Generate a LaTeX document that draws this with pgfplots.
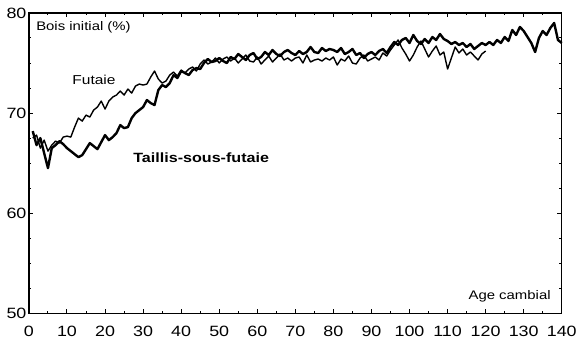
\documentclass[border=0pt]{standalone}
\usepackage{fontspec}
\setmainfont[FakeStretch=1.2]{Liberation Sans}
\usepackage{pgfplots}
\pgfplotsset{compat=1.18}

\begin{document}
\begin{tikzpicture}[x=1bp,y=1bp]
  \begin{axis}[
    scale only axis,
    width=534bp, height=301bp,
    xmin=0, xmax=140, ymin=50, ymax=80,
    xtick={0,10,...,140}, ytick={50,60,70,80},
    minor x tick num=1, minor y tick num=3,
    tick align=inside,
    major tick length=4.5bp, minor tick length=2.5bp,
    axis line style={line width=1.3bp},
    every tick/.style={black, line width=1bp},
    /pgf/number format/assume math mode=true,
    ticklabel style={font=\fontsize{15}{17}\selectfont},
    xticklabel style={yshift=-9bp},
    yticklabel style={xshift=1bp},
    clip=false]
    % Taillis-sous-futaie (trait epais)
    \addplot[black, line width=2.4bp, line join=round] coordinates {
      (1,68.2) (2,66.8) (3,67.5) (4,66.0) (5,64.5) (6,66.5) (7,66.8) (8,67.2) (9,66.9) (10,66.5)
      (11,66.2) (12,65.9) (13,65.6) (14,65.8) (15,66.4) (16,67.0) (17,66.7) (18,66.4) (19,67.1) (20,67.8)
      (21,67.3) (22,67.6) (23,68.0) (24,68.8) (25,68.5) (26,68.6) (27,69.5) (28,70.0) (29,70.3) (30,70.6)
      (31,71.3) (32,71.0) (33,70.8) (34,72.3) (35,72.8) (36,72.6) (37,73.0) (38,73.8) (39,73.5) (40,74.2)
      (41,74.0) (42,73.8) (43,74.3) (44,74.5) (45,74.4) (46,75.0) (47,75.4) (48,75.1) (49,75.2) (50,75.5)
      (51,75.2) (52,75.0) (53,75.6) (54,75.4) (55,75.9) (56,75.6) (57,75.3) (58,75.8) (59,76.0) (60,75.4)
      (61,75.6) (62,76.1) (63,75.8) (64,76.3) (65,75.9) (66,75.7) (67,76.1) (68,76.3) (69,76.0) (70,75.8)
      (71,76.2) (72,75.9) (73,76.1) (74,76.6) (75,76.1) (76,76.0) (77,76.5) (78,76.2) (79,76.4) (80,76.3)
      (81,76.1) (82,76.5) (83,75.9) (84,76.1) (85,76.4) (86,75.8) (87,76.0) (88,75.5) (89,75.9) (90,76.1)
      (91,75.8) (92,76.2) (93,76.4) (94,76.0) (95,76.6) (96,77.1) (97,76.8) (98,77.3) (99,77.5) (100,77.0)
      (101,77.8) (102,77.2) (103,76.9) (104,77.4) (105,77.0) (106,77.6) (107,77.3) (108,77.9) (109,77.4) (110,77.2)
      (111,76.9) (112,77.1) (113,76.8) (114,77.0) (115,76.6) (116,76.9) (117,76.4) (118,76.7) (119,77.0) (120,76.8)
      (121,77.1) (122,76.8) (123,77.3) (124,77.0) (125,77.6) (126,77.2) (127,78.3) (128,77.8) (129,78.6) (130,78.2)
      (131,77.6) (132,77.0) (133,76.1) (134,77.5) (135,78.2) (136,77.8) (137,78.5) (138,79.0) (139,77.3) (140,77.0)
    };
    % Futaie (trait fin)
    \addplot[black, line width=1.4bp, line join=round] coordinates {
      (1,67.5) (2,67.8) (3,66.5) (4,67.3) (5,66.2) (6,66.8) (7,67.2) (8,67.0) (9,67.6) (10,67.7)
      (11,67.6) (12,68.6) (13,69.5) (14,69.2) (15,69.8) (16,69.6) (17,70.3) (18,70.6) (19,71.2) (20,70.4)
      (21,71.2) (22,71.6) (23,71.8) (24,72.2) (25,71.8) (26,72.4) (27,72.0) (28,72.7) (29,72.9) (30,72.8)
      (31,72.9) (32,73.6) (33,74.2) (34,73.4) (35,73.0) (36,73.2) (37,73.8) (38,74.1) (39,73.7) (40,74.3)
      (41,74.0) (42,74.4) (43,74.6) (44,74.2) (45,74.9) (46,75.3) (47,74.9) (48,75.1) (49,75.5) (50,75.0)
      (51,75.4) (52,75.6) (53,75.2) (54,75.5) (55,75.0) (56,75.4) (57,75.8) (58,75.2) (59,75.1) (60,75.6)
      (61,74.9) (62,75.3) (63,75.7) (64,75.1) (65,75.5) (66,75.9) (67,75.3) (68,75.5) (69,75.2) (70,75.5)
      (71,75.6) (72,75.0) (73,75.8) (74,75.1) (75,75.3) (76,75.4) (77,75.2) (78,75.5) (79,75.3) (80,75.6)
      (81,74.8) (82,75.4) (83,75.2) (84,75.7) (85,75.0) (86,74.9) (87,75.5) (88,75.8) (89,75.2) (90,75.4)
      (91,75.6) (92,75.3) (93,76.0) (94,75.7) (95,76.3) (96,76.8) (97,77.3) (98,76.5) (99,75.9) (100,75.2)
      (101,75.8) (102,76.6) (103,77.2) (104,76.4) (105,75.6) (106,76.2) (107,76.7) (108,75.8) (109,76.1) (110,74.4)
      (111,75.5) (112,76.6) (113,76.0) (114,76.4) (115,75.8) (116,76.1) (117,75.7) (118,75.3) (119,75.9) (120,76.2)
    };
    \node[anchor=west, font=\fontsize{12.5}{14}\selectfont] at (axis cs:1,78.6) {Bois initial (\%)};
    \node[anchor=west, font=\fontsize{13}{15}\selectfont] at (axis cs:10.5,73.3) {Futaie};
    \node[anchor=west, font=\fontsize{13.5}{15}\selectfont\bfseries] at (axis cs:26.5,65.5) {Taillis-sous-futaie};
    \node[anchor=east, font=\fontsize{12.5}{14}\selectfont] at (axis cs:138,51.7) {Age cambial};
  \end{axis}
  \path ([shift={(-29bp,-31bp)}]current axis.south west) rectangle ([shift={(17bp,13bp)}]current axis.north east);
\end{tikzpicture}
\end{document}
